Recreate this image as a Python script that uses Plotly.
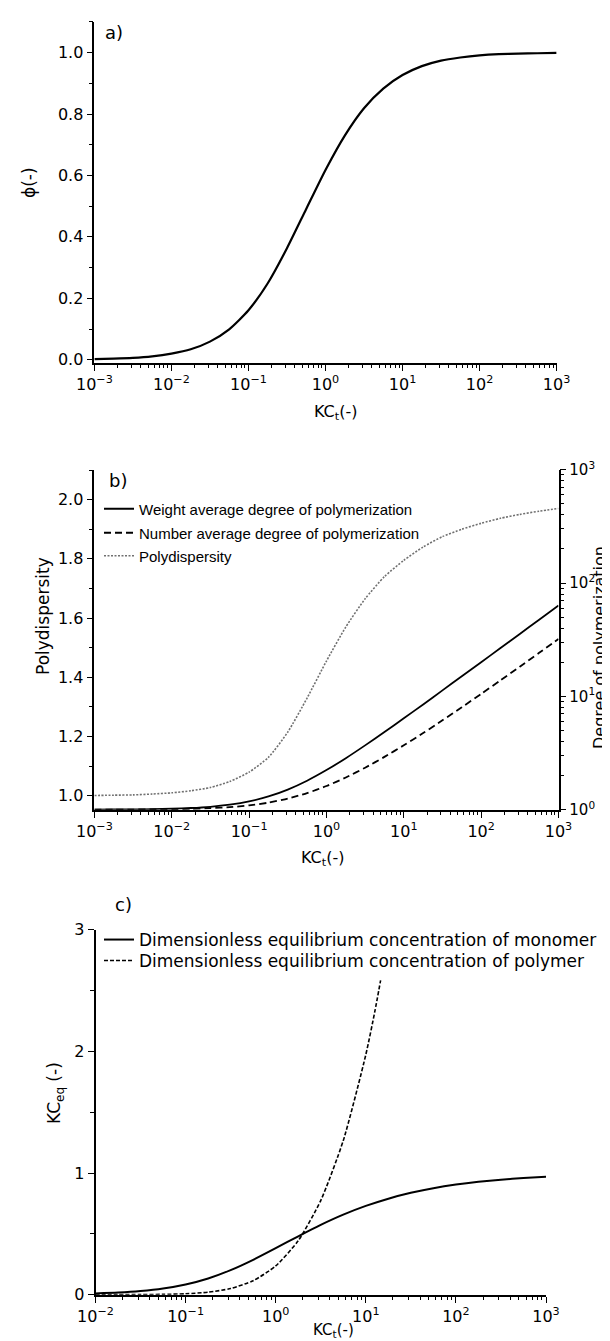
import plotly.graph_objects as go

W, H = 610, 1341

# ---------------- data ----------------
# panel a
kct_a = [0.001, 0.00178, 0.00316, 0.00562, 0.01, 0.0178, 0.0316, 0.0562, 0.1, 0.178,
         0.316, 0.562, 1.0, 1.78, 3.16, 5.62, 10.0, 17.8, 31.6, 56.2,
         100.0, 178.0, 316.0, 562.0, 1000.0]
phi_a = [0.002, 0.0035, 0.006, 0.011, 0.020, 0.034, 0.059, 0.099, 0.161, 0.249,
         0.363, 0.491, 0.618, 0.730, 0.819, 0.883, 0.927, 0.956, 0.974, 0.984,
         0.991, 0.995, 0.997, 0.998, 0.999]

# panel b
kct_b = [0.001, 0.00178, 0.00316, 0.00562, 0.01, 0.0178, 0.0316, 0.0562, 0.1, 0.178,
         0.316, 0.562, 1.0, 1.78, 3.16, 5.62, 10.0, 17.8, 31.6, 56.2,
         100.0, 178.0, 316.0, 562.0, 1000.0]
pdi_b = [1.001, 1.002, 1.003, 1.006, 1.010, 1.017, 1.028, 1.048, 1.080, 1.130,
         1.215, 1.330, 1.455, 1.570, 1.665, 1.740, 1.795, 1.840, 1.875, 1.900,
         1.920, 1.937, 1.950, 1.961, 1.970]
xw_b = [1.002, 1.004, 1.006, 1.011, 1.020, 1.035, 1.061, 1.107, 1.183, 1.308,
        1.505, 1.803, 2.236, 2.848, 3.695, 4.847, 6.403, 8.493, 11.29, 15.03,
        20.02, 26.70, 35.58, 47.42, 63.25]
xn_b = [1.001, 1.002, 1.003, 1.006, 1.010, 1.018, 1.031, 1.053, 1.092, 1.154,
        1.253, 1.401, 1.618, 1.924, 2.347, 2.924, 3.702, 4.746, 6.145, 8.017,
        10.51, 13.85, 18.29, 24.21, 32.13]

# panel c
kct_c = [0.01, 0.0178, 0.0316, 0.0562, 0.1, 0.178, 0.316, 0.562, 1.0, 1.78,
         3.16, 5.62, 10.0, 17.8, 31.6, 56.2, 100.0, 178.0, 316.0, 562.0, 1000.0]
mono_c = [0.0098, 0.0172, 0.0298, 0.0507, 0.0839, 0.1335, 0.2016, 0.2864, 0.382, 0.4803,
          0.574, 0.658, 0.7298, 0.7893, 0.8373, 0.8753, 0.9049, 0.9278, 0.9453, 0.9587, 0.9689]
kct_c_poly = [0.01, 0.0178, 0.0316, 0.0562, 0.1, 0.178, 0.316, 0.562, 1.0, 1.78,
              3.16, 5.62, 10.0, 12.6, 14.6]
poly_c = [0.0001, 0.0003, 0.0009, 0.0027, 0.0077, 0.0206, 0.0509, 0.1149, 0.2361, 0.4439,
          0.7734, 1.266, 1.972, 2.328, 2.583]

# tick labels
dec_vals_a = [1e-3, 1e-2, 1e-1, 1, 10, 100, 1000]
dec_text_a = ["10<sup>\u22123</sup>", "10<sup>\u22122</sup>", "10<sup>\u22121</sup>",
              "10<sup>0</sup>", "10<sup>1</sup>", "10<sup>2</sup>", "10<sup>3</sup>"]
dec_vals_c = [1e-2, 1e-1, 1, 10, 100, 1000]
dec_text_c = dec_text_a[1:]
dp_vals = [1, 10, 100, 1000]
dp_text = ["10<sup>0</sup>", "10<sup>1</sup>", "10<sup>2</sup>", "10<sup>3</sup>"]

legend_b = ["Weight average degree of polymerization",
            "Number average degree of polymerization",
            "Polydispersity"]
legend_c = ["Dimensionless equilibrium concentration of monomer",
            "Dimensionless equilibrium concentration of polymer"]

# ---------------- helpers ----------------
FONT = "DejaVu Sans"


def fx(px):
    return px / W


def fy(py):
    return 1 - py / H


TICKFONT = dict(family=FONT, size=16, color="black")


def log_x(domain, anchor, rng, vals, text):
    return dict(type="log", range=rng, domain=domain, anchor=anchor, automargin=False,
                showline=True, linecolor="black", linewidth=1.6,
                ticks="outside", ticklen=6, tickwidth=1.4, tickcolor="black",
                tickmode="array", tickvals=vals, ticktext=text, tickfont=TICKFONT,
                showgrid=False, zeroline=False,
                minor=dict(ticks="outside", ticklen=3.5, tickwidth=1,
                           tickcolor="black", dtick="D1", showgrid=False))


def lin_y(domain, anchor, rng, dtick, tick0, mdtick, fmt):
    return dict(range=rng, domain=domain, anchor=anchor, automargin=False,
                showline=True, linecolor="black", linewidth=1.6,
                ticks="outside", ticklen=6, tickwidth=1.4, tickcolor="black",
                tickmode="linear", dtick=dtick, tick0=tick0, tickformat=fmt,
                tickfont=TICKFONT, showgrid=False, zeroline=False,
                minor=dict(ticks="outside", ticklen=3.5, tickwidth=1,
                           tickcolor="black", dtick=mdtick, tick0=tick0,
                           showgrid=False))


SPL = dict(shape="spline", smoothing=0.6)

fig = go.Figure()

# panel a
fig.add_trace(go.Scatter(x=kct_a, y=phi_a, mode="lines", xaxis="x", yaxis="y",
                         line=dict(color="black", width=2.2, **SPL),
                         showlegend=False))

# panel b
fig.add_trace(go.Scatter(x=kct_b, y=xw_b, mode="lines", xaxis="x2", yaxis="y3",
                         name=legend_b[0], legend="legend",
                         line=dict(color="black", width=1.8, **SPL)))
fig.add_trace(go.Scatter(x=kct_b, y=xn_b, mode="lines", xaxis="x2", yaxis="y3",
                         name=legend_b[1], legend="legend2",
                         line=dict(color="black", width=1.8, dash="7px,4px", **SPL)))
fig.add_trace(go.Scatter(x=kct_b, y=pdi_b, mode="lines", xaxis="x2", yaxis="y2",
                         name=legend_b[2], legend="legend3",
                         line=dict(color="#707070", width=1.6, dash="2px,1.5px", **SPL)))

# panel c
fig.add_trace(go.Scatter(x=kct_c, y=mono_c, mode="lines", xaxis="x3", yaxis="y4",
                         name=legend_c[0], legend="legend4",
                         line=dict(color="black", width=2.0, **SPL)))
fig.add_trace(go.Scatter(x=kct_c_poly, y=poly_c, mode="lines", xaxis="x3", yaxis="y4",
                         name=legend_c[1], legend="legend5",
                         line=dict(color="black", width=1.6, dash="4px,2px", **SPL)))

# ---------------- axes ----------------
dom_a_x = [fx(86.4), fx(548.6)]
dom_a_y = [fy(354.8), fy(13.6)]
dom_b_x = [fx(86.4), fx(550.5)]
dom_b_y = [fy(801.7), fy(461.7)]
dom_c_x = [fx(87.5), fx(538.0)]
dom_c_y = [fy(1286.7), fy(921.7)]

layout = dict(
    width=W, height=H,
    margin=dict(l=0, r=0, t=0, b=0, pad=0, autoexpand=False),
    paper_bgcolor="white", plot_bgcolor="white",
    font=dict(family=FONT, color="black"),
    xaxis=log_x(dom_a_x, "y", [-3, 3], dec_vals_a, dec_text_a),
    yaxis=lin_y(dom_a_y, "x", [-0.01, 1.101], 0.2, 0, 0.1, ".1f"),
    xaxis2=log_x(dom_b_x, "y2", [-3, 3], dec_vals_a, dec_text_a),
    yaxis2=lin_y(dom_b_y, "x2", [0.953, 2.101], 0.2, 1.0, 0.1, ".1f"),
    yaxis3=dict(type="log", range=[0, 3], overlaying="y2", side="right", anchor="x2",
                automargin=False,
                showline=True, linecolor="black", linewidth=1.6,
                ticks="outside", ticklen=6, tickwidth=1.4, tickcolor="black",
                tickmode="array", tickvals=dp_vals, ticktext=dp_text,
                tickfont=dict(family=FONT, size=15, color="black"),
                showgrid=False, zeroline=False,
                minor=dict(ticks="outside", ticklen=3.5, tickwidth=1,
                           tickcolor="black", dtick="D1", showgrid=False)),
    xaxis3=log_x(dom_c_x, "y4", [-2, 3], dec_vals_c, dec_text_c),
    yaxis4=lin_y(dom_c_y, "x3", [0, 3.0], 1, 0, 0.5, "d"),
)

# legends (one entry each so rows sit where the reference puts them)
leg_b_font = dict(family="Liberation Sans", size=15, color="black")
leg_c_font = dict(family=FONT, size=17, color="black")
for name, ypx in zip(["legend", "legend2", "legend3"], [501, 525, 548]):
    layout[name] = dict(x=fx(91), y=fy(ypx), xanchor="left", yanchor="middle",
                        bgcolor="rgba(0,0,0,0)", borderwidth=0, font=leg_b_font)
for name, ypx in zip(["legend4", "legend5"], [932, 953]):
    layout[name] = dict(x=fx(91), y=fy(ypx), xanchor="left", yanchor="middle",
                        bgcolor="rgba(0,0,0,0)", borderwidth=0, font=leg_c_font)

fig.update_layout(**layout)


def ann(text, xpx, ypx, size=17, angle=0, xanchor="center", family=FONT):
    fig.add_annotation(text=text, x=fx(xpx), y=fy(ypx), xref="paper", yref="paper",
                       xanchor=xanchor, yanchor="middle", showarrow=False,
                       textangle=angle, font=dict(family=family, size=size, color="black"))


# panel letters
ann("a)", 95, 24, size=18, xanchor="left")
ann("b)", 99, 473, size=18, xanchor="left")
ann("c)", 105, 896, size=18, xanchor="left")

# x titles
ann("KC<sub>t</sub>(-)", 327, 404, size=16)
ann("KC<sub>t</sub>(-)", 314, 850, size=16)
ann("KC<sub>t</sub>(-)", 325, 1322, size=15)

# y titles
ann("\u03d5(-)", 21, 175, size=17, angle=-90)
ann("Polydispersity", 35, 608, size=17, angle=-90)
ann("Degree of polymerization", 592, 640, size=16, angle=-90)
ann("KC<sub>eq</sub> (-)", 47, 1085, size=17, angle=-90)

fig.write_html("out.html", config={"displayModeBar": False})
